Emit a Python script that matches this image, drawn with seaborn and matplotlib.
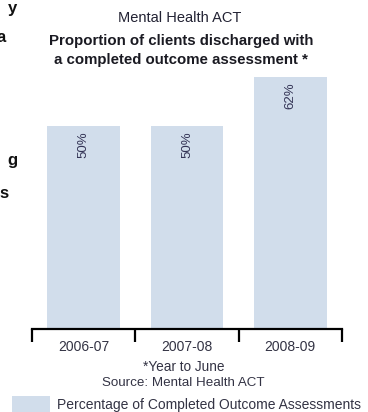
import matplotlib
matplotlib.use("Agg")
import matplotlib.pyplot as plt
from matplotlib.patches import Patch
import seaborn as sns
import pandas as pd

years = ["2006-07", "2007-08", "2008-09"]
values = [50, 50, 62]
value_labels = ["50%", "50%", "62%"]
title_lines = ["Mental Health ACT", "Proportion of clients discharged with", "a completed outcome assessment *"]
notes = ["*Year to June", "Source: Mental Health ACT"]
legend_label = "Percentage of Completed Outcome Assessments"

sns.set_theme(style="white")
plt.rcParams["font.family"] = ["Liberation Sans", "DejaVu Sans"]

bar_color = "#d1ddeb"
df = pd.DataFrame({"year": years, "value": values})

fig = plt.figure(figsize=(3.68, 4.12), dpi=100)
ax = fig.add_axes([0.087, 0.2015, 0.842, 0.6286])
sns.barplot(data=df, x="year", y="value", color=bar_color, width=0.705, ax=ax,
            saturation=1, edgecolor="none")

ax.set_xlim(-0.5, 2.5)
ax.set_ylim(0, 63.8)
ax.set_xlabel("")
ax.set_ylabel("")
ax.set_yticks([])
for s in ["top", "right", "left"]:
    ax.spines[s].set_visible(False)
ax.spines["bottom"].set_color("black")
ax.spines["bottom"].set_linewidth(1.6)

ax.set_xticks([-0.5, 0.5, 1.5, 2.5], minor=True)
ax.tick_params(axis="x", which="minor", direction="out", length=9, width=1.6,
               color="black", bottom=True)
ax.tick_params(axis="x", which="major", length=0, pad=8, labelsize=10,
               labelcolor="#333344")

for i, (v, lab) in enumerate(zip(values, value_labels)):
    ax.annotate(lab, xy=(i, v), xytext=(0, -4), textcoords="offset points",
                rotation=90, ha="center", va="top", fontsize=9.5, color="#333355")

# title
fig.text(180 / 368, 1 - 18 / 412, title_lines[0], ha="center", va="center",
         fontsize=10.5, color="#222233")
fig.text(181 / 368, 1 - 41 / 412, title_lines[1], ha="center", va="center",
         fontsize=10.8, fontweight="bold", color="#1a1a22")
fig.text(181 / 368, 1 - 60 / 412, title_lines[2], ha="center", va="center",
         fontsize=10.8, fontweight="bold", color="#1a1a22")

# notes
fig.text(184 / 368, 1 - 367 / 412, notes[0], ha="center", va="center",
         fontsize=9.8, color="#333344")
fig.text(183 / 368, 1 - 383 / 412, notes[1], ha="center", va="center",
         fontsize=9.6, color="#333344")

# clipped neighbouring text fragments (edge of adjacent text in the source page)
for txt, x, y in [("y", 17, 9), ("a", 6, 37), ("g", 18, 161), ("s", 9, 193)]:
    fig.text(x / 368, 1 - y / 412, txt, ha="right", va="center",
             fontsize=12, fontweight="bold", color="#111111")

fig.legend(handles=[Patch(facecolor=bar_color, edgecolor="none")],
           labels=[legend_label], loc="center left",
           bbox_to_anchor=(12 / 368, 1 - 404 / 412), frameon=False,
           handlelength=2.7, handleheight=1.3, handletextpad=0.55,
           fontsize=10, labelcolor="#333344", borderaxespad=0, borderpad=0)

fig.savefig("out.png", dpi=100)
